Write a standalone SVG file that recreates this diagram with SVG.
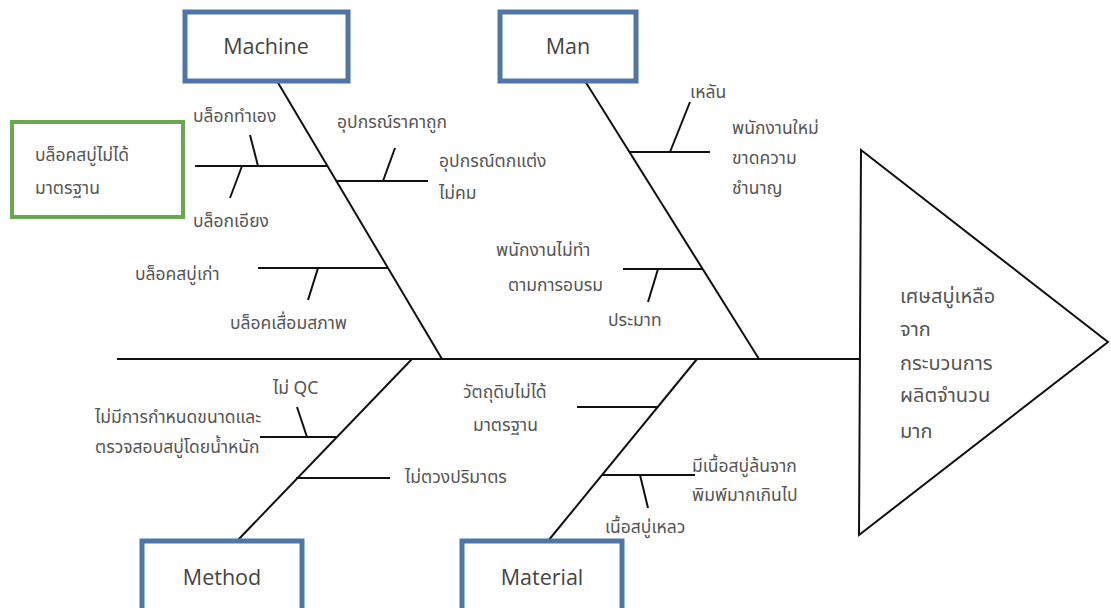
<svg xmlns="http://www.w3.org/2000/svg" width="1111" height="608" viewBox="0 0 1111 608">
<style>
.box{fill:#fff;stroke:#4e76aa;stroke-width:5}
.gbox{fill:#fff;stroke:#6aa84f;stroke-width:4}
.ln{stroke:#111;stroke-width:2;fill:none}
.en{font-family:"Open Sans","Noto Sans",sans-serif;font-size:21.5px;fill:#444;text-anchor:middle}
.th{font-family:"Noto Sans Thai","Tahoma","Noto Sans","DejaVu Sans",sans-serif;font-size:17.5px;fill:#555}
.big{font-size:20px}
</style>
<rect width="1111" height="608" fill="#fff"/>
<g id="connectors">
<line class="ln" x1="117" y1="359" x2="861" y2="359"/>
<line class="ln" x1="277" y1="81" x2="442" y2="359"/>
<line class="ln" x1="585" y1="81" x2="759" y2="359"/>
<line class="ln" x1="412" y1="359" x2="237" y2="541"/>
<line class="ln" x1="697" y1="359" x2="548" y2="541"/>
<line class="ln" x1="195" y1="166" x2="327" y2="166"/>
<line class="ln" x1="250" y1="135" x2="258" y2="166"/>
<line class="ln" x1="242" y1="166" x2="230" y2="198"/>
<line class="ln" x1="336" y1="181" x2="428" y2="181"/>
<line class="ln" x1="395" y1="148" x2="383" y2="181"/>
<line class="ln" x1="258" y1="268" x2="388" y2="268"/>
<line class="ln" x1="318" y1="268" x2="308" y2="300"/>
<line class="ln" x1="629" y1="152" x2="710" y2="152"/>
<line class="ln" x1="670" y1="152" x2="690" y2="102"/>
<line class="ln" x1="623" y1="269" x2="703" y2="269"/>
<line class="ln" x1="658" y1="269" x2="648" y2="302"/>
<line class="ln" x1="260" y1="437" x2="337" y2="437"/>
<line class="ln" x1="297" y1="407" x2="307" y2="437"/>
<line class="ln" x1="296" y1="478" x2="390" y2="478"/>
<line class="ln" x1="577" y1="407" x2="658" y2="407"/>
<line class="ln" x1="602" y1="475" x2="695" y2="475"/>
<line class="ln" x1="640" y1="475" x2="648" y2="508"/>
</g>
<g id="effect">
<polygon points="861,150 1108,342 859,535" fill="#fff" stroke="#111" stroke-width="2"/>
<text class="th big" x="900" y="303">เศษสบู่เหลือ</text>
<text class="th big" x="900" y="336">จาก</text>
<text class="th big" x="900" y="370">กระบวนการ</text>
<text class="th big" x="900" y="402">ผลิตจำนวน</text>
<text class="th big" x="900" y="438">มาก</text>
</g>
<g id="machine"><rect class="box" x="185" y="12" width="163" height="69"/><text class="en" x="266" y="54">Machine</text></g>
<g id="man"><rect class="box" x="500" y="12" width="136" height="69"/><text class="en" x="568" y="54">Man</text></g>
<g id="method"><rect class="box" x="142" y="541" width="160" height="80"/><text class="en" x="222" y="585">Method</text></g>
<g id="material"><rect class="box" x="462" y="541" width="160" height="80"/><text class="en" x="542" y="585">Material</text></g>
<g id="problem"><rect class="gbox" x="12" y="122" width="171" height="95"/>
<text class="th" x="35" y="161">บล็อคสบู่ไม่ได้</text>
<text class="th" x="35" y="194">มาตรฐาน</text></g>
<g id="machine-causes">
<text class="th" x="193" y="122">บล็อกทำเอง</text>
<text class="th" x="193" y="227">บล็อกเอียง</text>
<text class="th" x="337" y="128">อุปกรณ์ราคาถูก</text>
<text class="th" x="439" y="167">อุปกรณ์ตกแต่ง</text>
<text class="th" x="439" y="199">ไม่คม</text>
<text class="th" x="135" y="280">บล็อคสบู่เก่า</text>
<text class="th" x="230" y="329">บล็อคเสื่อมสภาพ</text>
</g>
<g id="man-causes">
<text class="th" x="690" y="98">เหลัน</text>
<text class="th" x="732" y="134">พนักงานใหม่</text>
<text class="th" x="732" y="164">ขาดความ</text>
<text class="th" x="732" y="194">ชำนาญ</text>
<text class="th" x="496" y="256">พนักงานไม่ทำ</text>
<text class="th" x="508" y="291">ตามการอบรม</text>
<text class="th" x="608" y="326">ประมาท</text>
</g>
<g id="method-causes">
<text class="th" x="273" y="394">ไม่ QC</text>
<text class="th" x="95" y="423">ไม่มีการกำหนดขนาดและ</text>
<text class="th" x="95" y="453">ตรวจสอบสบู่โดยน้ำหนัก</text>
<text class="th" x="405" y="483">ไม่ตวงปริมาตร</text>
</g>
<g id="material-causes">
<text class="th" x="463" y="398">วัตถุดิบไม่ได้</text>
<text class="th" x="473" y="431">มาตรฐาน</text>
<text class="th" x="692" y="472">มีเนื้อสบู่ล้นจาก</text>
<text class="th" x="692" y="501">พิมพ์มากเกินไป</text>
<text class="th" x="605" y="533">เนื้อสบู่เหลว</text>
</g>
</svg>
